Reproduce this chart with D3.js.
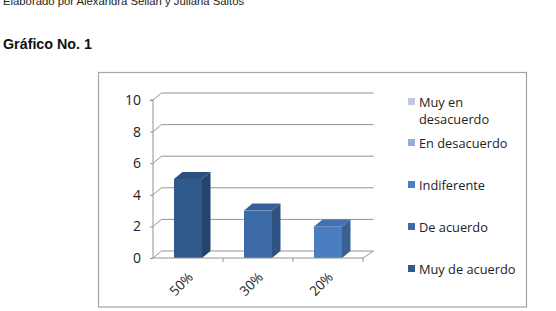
<!DOCTYPE html>
<html><head><meta charset="utf-8">
<script src="https://cdn.jsdelivr.net/npm/d3@7"></script>
<style>body{margin:0;background:#fff;} svg{display:block;}</style>
</head><body>
<svg id="c" width="556" height="311"></svg>
<script>
const categories = ["50%", "30%", "20%"];
const values = [5, 3, 2];
const barSeries = ["Muy de acuerdo", "De acuerdo", "Indiferente"];
const legendSeries = ["Muy en desacuerdo", "En desacuerdo", "Indiferente", "De acuerdo", "Muy de acuerdo"];
const legendLines = [["Muy en", "desacuerdo"], ["En desacuerdo"], ["Indiferente"], ["De acuerdo"], ["Muy de acuerdo"]];
const yTicks = [0, 2, 4, 6, 8, 10];
const colors = {
  "Muy en desacuerdo": "#C3C8E1",
  "En desacuerdo": "#97ACD4",
  "Indiferente": "#4A7EC0",
  "De acuerdo": "#3C6BA8",
  "Muy de acuerdo": "#30598C"
};

const svg = d3.select("#c");
svg.append("text").attr("x", 3).attr("y", 4.5).attr("font-family", "Liberation Sans, Arial").attr("font-size", 11.3).attr("fill", "#222")
  .text("Elaborado por  Alexandra Sellan y Juliana Saltos");
svg.append("text").attr("x", 3).attr("y", 49).attr("font-family", "Liberation Sans, Arial").attr("font-weight", "bold").attr("font-size", 14.3).attr("fill", "#111")
  .text("Gráfico No. 1");

svg.append("rect").attr("x", 98.5).attr("y", 72.5).attr("width", 428).attr("height", 234.5).attr("fill", "none").attr("stroke", "#A6A6A6").attr("stroke-width", 1.2);

const x0 = 153, x1 = 363, dx = 8.5, dy = -7;
const y = d3.scaleLinear().domain([0, 10]).range([258, 100]);
const x = d3.scaleBand().domain(categories).range([x0, x1]).paddingInner(0.6).paddingOuter(0.3);
const xc = d3.scaleBand().domain(categories).range([x0, x1]);
const grid = "#939393";
const g = svg.append("g");

yTicks.forEach(t => {
  const yy = y(t);
  g.append("path").attr("d", `M${x0},${yy}L${x0 + dx},${yy + dy}L${x1 + dx + 2},${yy + dy}`)
    .attr("fill", "none").attr("stroke", grid).attr("stroke-width", 1);
});
g.append("path").attr("d", `M${x1},${y(0)}L${x1 + dx + 2},${y(0) + dy}`).attr("fill", "none").attr("stroke", grid);
const yAxis = d3.axisLeft(y).tickValues(yTicks).tickSize(3).tickPadding(9);
const ya = svg.append("g").attr("transform", `translate(${x0},0)`).call(yAxis);
ya.select(".domain").attr("stroke", grid).attr("d", `M-3,${y(10)}H0V${y(0)}`);
ya.selectAll(".tick line").attr("stroke", grid);
ya.selectAll("text").attr("font-family", "Open Sans, Lato, sans-serif").attr("font-size", 14).attr("fill", "#222");

const shade = (c, k) => d3.color(c).darker(k).formatHex();
values.forEach((v, i) => {
  const c = colors[barSeries[i]];
  const bx = x(categories[i]), bw = x.bandwidth();
  const top = y(v), bot = y(0);
  g.append("path").attr("d", `M${bx + bw},${bot}L${bx + bw + dx},${bot + dy}L${bx + bw + dx},${top + dy}L${bx + bw},${top}Z`).attr("fill", shade(c, 0.75));
  g.append("path").attr("d", `M${bx},${top}L${bx + dx},${top + dy}L${bx + bw + dx},${top + dy}L${bx + bw},${top}Z`).attr("fill", shade(c, 0.3));
  g.append("rect").attr("x", bx).attr("y", top).attr("width", bw).attr("height", bot - top).attr("fill", c);
});

const xAxis = d3.axisBottom(xc).tickSize(0).tickFormat("");
const xa = svg.append("g").attr("transform", `translate(0,${y(0)})`).call(xAxis);
xa.select(".domain").attr("stroke", grid).attr("d", `M${x0},0H${x1}`);
categories.forEach((c, i) => {
  const tx = xc(c) + xc.bandwidth();
  svg.append("line").attr("x1", tx).attr("x2", tx).attr("y1", y(0)).attr("y2", y(0) + 4).attr("stroke", grid);
  const cx = xc(c) + xc.bandwidth() / 2;
  svg.append("text").attr("transform", `translate(${cx + 6},${y(0) + 20}) rotate(-45)`)
    .attr("text-anchor", "end").attr("font-family", "Open Sans, Lato, sans-serif").attr("font-size", 13.5).attr("fill", "#222").text(c);
});

const legY = [102, 143, 185, 227, 269];
legendSeries.forEach((s, i) => {
  svg.append("rect").attr("x", 408).attr("y", legY[i] - 4).attr("width", 7).attr("height", 7).attr("fill", colors[s]);
  legendLines[i].forEach((ln, j) => {
    svg.append("text").attr("x", 419).attr("y", legY[i] + 5 + j * 17).attr("font-family", "Open Sans, Lato, sans-serif").attr("font-size", 12.8).attr("fill", "#222").text(ln);
  });
});
</script>
</body></html>
